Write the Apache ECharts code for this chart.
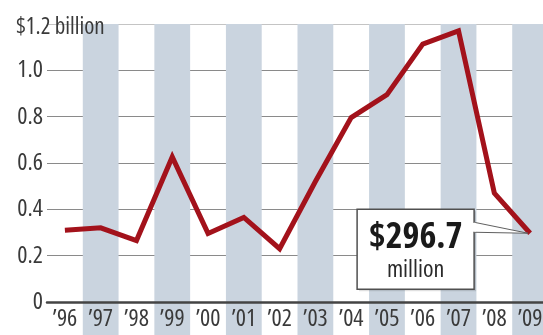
<!DOCTYPE html>
<html>
<head>
<meta charset="utf-8">
<script src="https://cdn.jsdelivr.net/npm/echarts@6/dist/echarts.min.js"></script>
<style>
html,body{margin:0;padding:0;background:#fff;}
#chart{width:543px;height:335px;}
</style>
</head>
<body>
<div id="chart"></div>
<script>
var categories = ["’96","’97","’98","’99","’00","’01","’02","’03","’04","’05","’06","’07","’08","’09"];
var values = [0.31, 0.32, 0.265, 0.626, 0.296, 0.365, 0.23, 0.52, 0.796, 0.895, 1.113, 1.17, 0.47, 0.2967];
var yTicks = [0, 0.2, 0.4, 0.6, 0.8, 1.0, 1.2];
var topLabel = "$1.2 billion";
var calloutValue = "$296.7";
var calloutUnit = "million";

var FONT = "'Open Sans','Roboto',sans-serif";
var COND = 'condensed';        // font-stretch keyword, goes into canvas font shorthand
var COND_BOLD = 'bold condensed';
var chart = echarts.init(document.getElementById('chart'), null, {renderer:'canvas'});

var option = {
  animation: false,
  backgroundColor: '#fff',
  title: {
    text: topLabel, left: 11, top: 11,
    textStyle: {fontFamily: FONT, fontSize: 23, fontWeight: COND, color: '#3a3a3a'}
  },
  grid: [
    {left: 47, width: 501, top: 24, bottom: 0, show: false, containLabel: false, outerBoundsMode: 'none'},
    {left: 47, width: 501, top: 24, bottom: 33, show: false, containLabel: false, outerBoundsMode: 'none'}
  ],
  xAxis: [
    {gridIndex: 0, type: 'category', data: categories, boundaryGap: true,
     axisLine: {show: false}, axisTick: {show: false}, axisLabel: {show: false},
     splitLine: {show: false},
     splitArea: {show: true, areaStyle: {color: ['rgba(0,0,0,0)', '#cad4df']}}},
    {gridIndex: 1, type: 'category', data: categories, boundaryGap: true,
     axisLine: {show: true, lineStyle: {color: '#444', width: 2.5}},
     axisTick: {show: false},
     axisLabel: {margin: 5, fontFamily: FONT, fontSize: 24, fontWeight: COND, color: '#3a3a3a', interval: 0},
     z: 5}
  ],
  yAxis: [
    {gridIndex: 0, type: 'value', min: 0, max: 1, show: false, splitLine: {show: false}},
    {gridIndex: 1, type: 'value', min: yTicks[0], max: yTicks[yTicks.length-1], interval: 0.2,
     axisLine: {show: false}, axisTick: {show: false},
     axisLabel: {margin: 4, fontFamily: FONT, fontSize: 24, fontWeight: COND, color: '#3a3a3a',
       formatter: function(v){
         if (Math.abs(v - yTicks[yTicks.length-1]) < 1e-6) return '';
         if (v === 0) return '0';
         return v.toFixed(1);
       }},
     splitLine: {show: true, lineStyle: {color: ['#8a8a8a','#8a8a8a','#8a8a8a','#8a8a8a','#8a8a8a','#8a8a8a','#c4c4c4'], width: 1}}}
  ],
  series: [
    {type: 'line', xAxisIndex: 1, yAxisIndex: 1, data: values,
     symbol: 'none', lineStyle: {color: '#a3121b', width: 5, join: 'miter'},
     z: 10}
  ]
};
chart.setOption(option);

// callout anchored to the last data point
var tip = chart.convertToPixel({xAxisIndex: 1, yAxisIndex: 1}, [categories.length - 1, values[values.length - 1]]);
var bx = tip[0] - 173, by = tip[1] - 24, bw = 117, bh = 80;
var bright = bx + bw;
chart.setOption({
  graphic: [
    {type: 'rect', shape: {x: bx + 2, y: by + 2, width: bw, height: bh}, style: {fill: 'rgba(0,0,0,0.12)'}, z: 20},
    {type: 'rect', shape: {x: bx, y: by, width: bw, height: bh}, style: {fill: '#fff', stroke: '#505050', lineWidth: 1.5}, z: 21},
    {type: 'polygon', shape: {points: [[bright, by + 13], [tip[0] - 2, tip[1]], [bright, by + 23]]},
     style: {fill: '#fff', stroke: '#606060', lineWidth: 1}, z: 22},
    {type: 'rect', shape: {x: bright - 1.5, y: by + 13.5, width: 3, height: 9}, style: {fill: '#fff'}, z: 23},
    {type: 'text', x: bx + bw / 2, y: by + 28, z: 24,
     style: {text: calloutValue, fontFamily: FONT, fontSize: 36, fontWeight: COND_BOLD, fill: '#1a1a1a', align: 'center', verticalAlign: 'middle'}},
    {type: 'text', x: bx + bw / 2, y: by + 61, z: 24,
     style: {text: calloutUnit, fontFamily: FONT, fontSize: 24, fontWeight: COND, fill: '#2a2a2a', align: 'center', verticalAlign: 'middle'}}
  ]
});
</script>
</body>
</html>
